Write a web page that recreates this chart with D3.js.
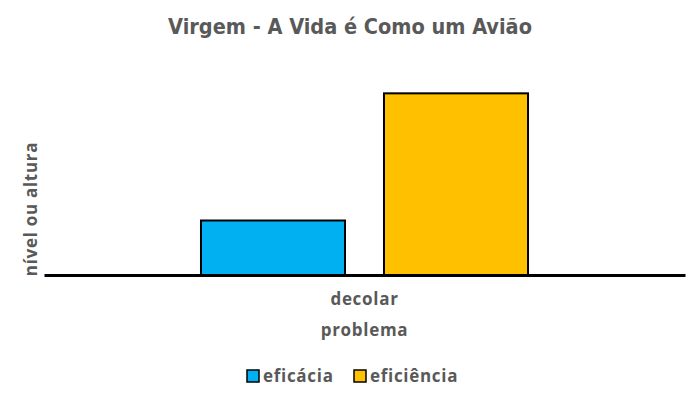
<!DOCTYPE html>
<html>
<head>
<meta charset="utf-8">
<script src="https://cdn.jsdelivr.net/npm/d3@7"></script>
<style>
  body { margin: 0; background: #fff; }
  text { font-family: "Open Sans", sans-serif; font-weight: bold; fill: #595959; }
  .lab { font-size: 17px; letter-spacing: 0.7px; }
</style>
</head>
<body>
<svg width="700" height="400"></svg>
<script>
// chart data
var categories = ["decolar"];
var series = ["eficácia", "eficiência"];
var values = [3, 10];
var colors = ["#00B0F0", "#FFC000"];
var titleText = "Virgem - A Vida é Como um Avião";
var yTitle = "nível ou altura";
var xTitle = "problema";

const width = 700;
const height = 400;
const margin = { left: 44, right: 15, top: 57, bottom: 125 };

const svg = d3.select("svg");

const x0 = d3.scaleBand()
    .domain(categories)
    .range([margin.left, width - margin.right])
    .paddingOuter(0.48);

const x1 = d3.scaleBand()
    .domain(series)
    .range([0, x0.bandwidth()])
    .paddingInner(0.213);

const y = d3.scaleLinear()
    .domain([0, 12])
    .range([height - margin.bottom, margin.top]);

// title
svg.append("text")
    .attr("x", width / 2)
    .attr("y", 34)
    .attr("text-anchor", "middle")
    .style("font-family", "'DejaVu Sans Condensed', sans-serif")
    .style("font-size", "21.5px")
    .text(titleText);

// bars
const g = svg.append("g");
categories.forEach(cat => {
  g.selectAll("rect.s")
    .data(series)
    .join("rect")
      .attr("x", (d, i) => x0(cat) + x1(d))
      .attr("y", (d, i) => y(values[i]))
      .attr("width", x1.bandwidth())
      .attr("height", (d, i) => y(0) - y(values[i]))
      .attr("fill", (d, i) => colors[i])
      .attr("stroke", "#000")
      .attr("stroke-width", 2);
});

// x axis
const xAxis = svg.append("g")
    .attr("transform", `translate(0,${y(0)})`)
    .call(d3.axisBottom(x0).tickSize(0).tickPadding(18));
xAxis.select(".domain").attr("stroke", "#000").attr("stroke-width", 3);
xAxis.selectAll("text")
    .attr("class", "lab")
    .style("font-family", "'Open Sans', sans-serif")
    .attr("fill", "#595959");

// axis titles
svg.append("text")
    .attr("class", "lab")
    .attr("x", x0(categories[0]) + x0.bandwidth() / 2)
    .attr("y", 336)
    .attr("text-anchor", "middle")
    .text(xTitle);

svg.append("text")
    .attr("class", "lab")
    .attr("transform", `translate(37,${(margin.top + y(0)) / 2 + 43}) rotate(-90)`)
    .attr("text-anchor", "middle")
    .text(yTitle);

// legend
const legend = svg.append("g").attr("transform", "translate(0,376)");
const legX = [247, 354];
series.forEach((s, i) => {
  legend.append("rect")
      .attr("x", legX[i])
      .attr("y", -6)
      .attr("width", 12)
      .attr("height", 12)
      .attr("fill", colors[i])
      .attr("stroke", "#000")
      .attr("stroke-width", 1.5);
  legend.append("text")
      .attr("class", "lab")
      .attr("x", legX[i] + 16)
      .attr("y", 6)
      .text(s);
});
</script>
</body>
</html>
